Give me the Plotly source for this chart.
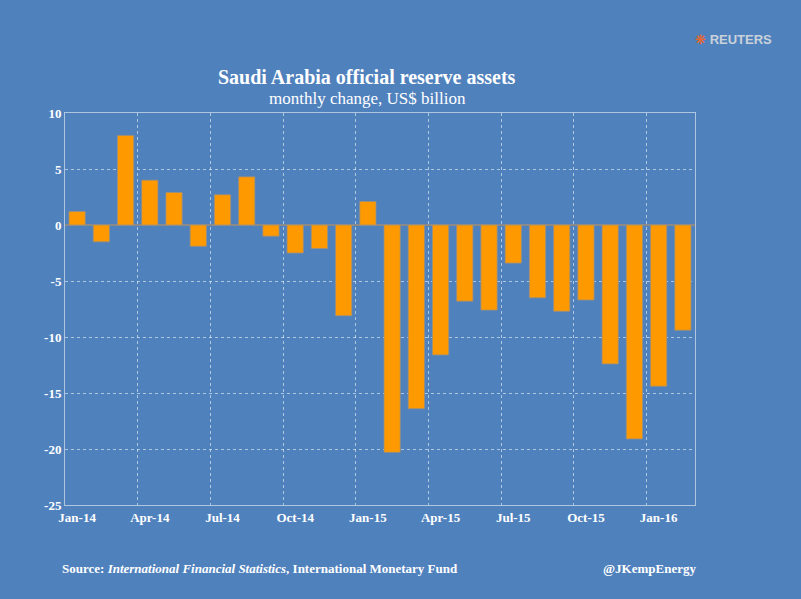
import plotly.graph_objects as go

months = ["Jan-14","Feb-14","Mar-14","Apr-14","May-14","Jun-14","Jul-14","Aug-14","Sep-14","Oct-14","Nov-14","Dec-14",
          "Jan-15","Feb-15","Mar-15","Apr-15","May-15","Jun-15","Jul-15","Aug-15","Sep-15","Oct-15","Nov-15","Dec-15",
          "Jan-16","Feb-16"]
values = [1.2,-1.5,8.0,4.0,2.9,-1.9,2.7,4.3,-1.0,-2.5,-2.1,-8.1,
          2.1,-20.3,-16.4,-11.6,-6.8,-7.6,-3.4,-6.5,-7.7,-6.7,-12.4,-19.1,-14.4,-9.4]
yticks = [10,5,0,-5,-10,-15,-20,-25]

bg = "#4F81BD"
x = list(range(len(months)))
fig = go.Figure(go.Bar(x=x, y=values, marker=dict(color="#FF9900", line=dict(color="#9a8f80", width=0.8))))
grid = "rgba(255,255,255,0.55)"
tf = dict(family="Liberation Serif", size=13, color="white", weight="bold")
fig.update_layout(
    width=801, height=599, paper_bgcolor=bg, plot_bgcolor=bg, bargap=0.33, showlegend=False,
    margin=dict(l=65, r=106, t=113, b=94),
    xaxis=dict(range=[-0.5, 25.5], tickvals=x[::3], ticktext=months[::3], showgrid=False, zeroline=False,
               tickfont=tf, ticklen=0,
               minor=dict(tick0=-0.5, dtick=3, showgrid=True, gridcolor=grid, griddash="dot", gridwidth=1),
               showline=True, linecolor=grid, mirror=True),
    yaxis=dict(range=[-25, 10], tickvals=yticks, ticktext=[str(v) for v in yticks],
               gridcolor=grid, griddash="dot", zeroline=True, zerolinecolor="#8a8a8a", zerolinewidth=1.5,
               tickfont=tf, showline=True, linecolor=grid, mirror=True),
)
def ann(text, px, py, size, anchor="center", color="white", family="Liberation Serif"):
    fig.add_annotation(text=text, x=(px-65)/(801-65-106), y=1-(py-113)/(599-113-94),
                       xref="paper", yref="paper", showarrow=False, xanchor=anchor, yanchor="middle",
                       font=dict(family=family, size=size, color=color))
ann("<b>Saudi Arabia official reserve assets</b>", 367, 77, 20)
ann("monthly change, US$ billion", 367, 99, 17)
ann("<b>Source: <i>International Financial Statistics</i>, International Monetary Fund</b>", 60, 568, 13, "left")
ann("<b>@JKempEnergy</b>", 698, 568, 13, "right")
ann("<span style='color:#F26522'>❋</span> <b>REUTERS</b>", 774, 40, 13, "right", "#c9d1da", "Liberation Sans")
fig.write_html("out.html", config={"displayModeBar": False},
               post_script="document.body.style.margin='0';document.body.style.background='#4F81BD';")
